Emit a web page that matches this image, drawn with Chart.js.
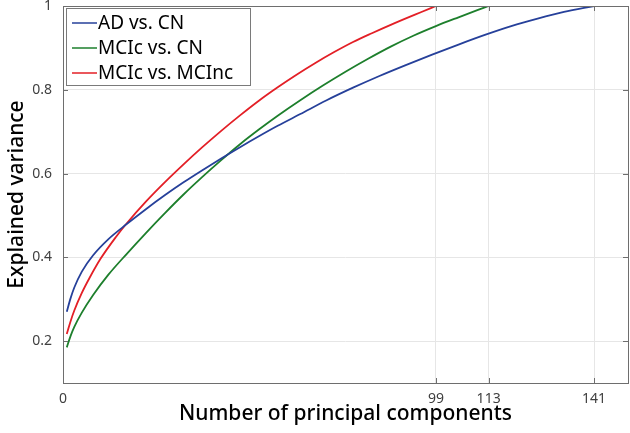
<!DOCTYPE html>
<html>
<head>
<meta charset="utf-8">
<script src="https://cdn.jsdelivr.net/npm/chart.js@4/dist/chart.umd.min.js"></script>
<style>
  html, body { margin: 0; padding: 0; background: #fff; }
  #wrap { width: 630px; height: 433px; }
</style>
</head>
<body>
<div id="wrap"><canvas id="chart" width="630" height="433"></canvas></div>
<script>
// values
const adCnX = [1, 2, 3, 5, 8, 12, 17, 22, 27, 32, 37, 42, 47, 52, 57, 63, 70, 77, 84, 91, 98, 105, 112, 119, 126, 133, 141];
const adCnY = [0.27, 0.302, 0.328, 0.366, 0.405, 0.443, 0.48, 0.515, 0.548, 0.579, 0.608, 0.636, 0.663, 0.689, 0.714, 0.742, 0.775, 0.805, 0.833, 0.859, 0.884, 0.908, 0.931, 0.952, 0.97, 0.986, 1.0];

const mcicCnX = [1, 2, 3, 5, 8, 12, 17, 22, 27, 32, 37, 42, 47, 52, 57, 63, 69, 75, 81, 87, 93, 99, 105, 110, 113];
const mcicCnY = [0.185, 0.212, 0.234, 0.268, 0.31, 0.358, 0.409, 0.458, 0.505, 0.55, 0.592, 0.632, 0.67, 0.705, 0.738, 0.775, 0.81, 0.843, 0.874, 0.903, 0.929, 0.952, 0.973, 0.99, 1.0];

const mcicMcincX = [1, 2, 3, 5, 7, 10, 14, 17, 22, 27, 32, 37, 42, 47, 52, 57, 62, 67, 72, 77, 82, 87, 92, 95, 99];
const mcicMcincY = [0.217, 0.247, 0.273, 0.315, 0.35, 0.397, 0.448, 0.482, 0.533, 0.579, 0.622, 0.663, 0.702, 0.739, 0.774, 0.806, 0.836, 0.864, 0.89, 0.914, 0.935, 0.955, 0.974, 0.985, 1.0];

const seriesNames = ["AD vs. CN", "MCIc vs. CN", "MCIc vs. MCInc"];
const xTickValues = [0, 99, 113, 141];
const yTickValues = [0.2, 0.4, 0.6, 0.8, 1];

const toPoints = (xs, ys) => xs.map((x, i) => ({ x, y: ys[i] }));

const FONT = "'Noto Sans', 'DejaVu Sans', sans-serif";

// MATLAB-like box, inward ticks and a boxed legend in the upper left
const framePlugin = {
  id: "frame",
  afterDraw(chart) {
    const { ctx, chartArea: a, scales } = chart;
    ctx.save();
    ctx.strokeStyle = "#6e6e6e";
    ctx.lineWidth = 1;
    ctx.beginPath();
    xTickValues.forEach((v) => {
      const px = Math.round(scales.x.getPixelForValue(v)) + 0.5;
      ctx.moveTo(px, a.bottom);
      ctx.lineTo(px, a.bottom - 5);
      ctx.moveTo(px, a.top);
      ctx.lineTo(px, a.top + 5);
    });
    yTickValues.forEach((v) => {
      const py = Math.round(scales.y.getPixelForValue(v)) + 0.5;
      ctx.moveTo(a.left, py);
      ctx.lineTo(a.left + 5, py);
      ctx.moveTo(a.right, py);
      ctx.lineTo(a.right - 5, py);
    });
    ctx.stroke();
    ctx.strokeRect(Math.round(a.left) + 0.5, Math.round(a.top) + 0.5,
      Math.round(a.right - a.left), Math.round(a.bottom - a.top));

    // legend
    const lx = a.left + 3, ly = a.top + 2, lw = 184, lh = 77;
    ctx.fillStyle = "#fff";
    ctx.fillRect(lx, ly, lw, lh);
    ctx.strokeStyle = "#7a7a7a";
    ctx.strokeRect(Math.round(lx) + 0.5, Math.round(ly) + 0.5, lw, lh);
    ctx.font = "19px " + FONT;
    ctx.textBaseline = "middle";
    chart.data.datasets.forEach((ds, i) => {
      const ry = ly + 15 + i * 25;
      ctx.strokeStyle = ds.borderColor;
      ctx.lineWidth = 1.5;
      ctx.beginPath();
      ctx.moveTo(lx + 6, ry);
      ctx.lineTo(lx + 31, ry);
      ctx.stroke();
      ctx.fillStyle = "#000";
      ctx.fillText(ds.label, lx + 32, ry + 1);
    });
    ctx.restore();
  },
};

new Chart(document.getElementById("chart"), {
  type: "line",
  data: {
    datasets: [
      { label: seriesNames[0], data: toPoints(adCnX, adCnY), borderColor: "#26409a" },
      { label: seriesNames[1], data: toPoints(mcicCnX, mcicCnY), borderColor: "#1d7f2c" },
      { label: seriesNames[2], data: toPoints(mcicMcincX, mcicMcincY), borderColor: "#e31f26" },
    ].map((d) => ({
      ...d,
      borderWidth: 1.8,
      pointRadius: 0,
      fill: false,
      cubicInterpolationMode: "monotone",
    })),
  },
  options: {
    responsive: false,
    animation: false,
    layout: { padding: { top: 6, right: 2, left: 0, bottom: 0 } },
    plugins: { legend: { display: false }, tooltip: { enabled: false } },
    scales: {
      x: {
        type: "linear",
        min: 0,
        max: 150,
        afterBuildTicks: (s) => { s.ticks = xTickValues.map((v) => ({ value: v })); },
        afterFit: (s) => { s.height = 50; s.paddingLeft = 0; s.paddingRight = 0; },
        grid: { color: "#e6e6e6", drawTicks: false },
        border: { display: false },
        ticks: { padding: 8, color: "#404040", font: { family: FONT, size: 14 }, maxRotation: 0 },
        title: {
          display: true,
          text: "Number of principal components",
          color: "#000",
          font: { family: FONT, size: 21, weight: "500" },
          padding: { bottom: 6 },
        },
      },
      y: {
        min: 0.1,
        max: 1,
        afterBuildTicks: (s) => { s.ticks = yTickValues.map((v) => ({ value: v })); },
        afterFit: (s) => { s.width = 63; s.paddingTop = 0; s.paddingBottom = 0; },
        grid: { color: "#e6e6e6", drawTicks: false },
        border: { display: false },
        ticks: {
          padding: 11,
          color: "#404040",
          font: { family: FONT, size: 14 },
          callback: (v) => String(Math.round(v * 10) / 10),
        },
        title: {
          display: true,
          text: "Explained variance",
          color: "#000",
          font: { family: FONT, size: 21, weight: "500" },
          padding: { top: 4 },
        },
      },
    },
  },
  plugins: [framePlugin],
});
</script>
</body>
</html>
